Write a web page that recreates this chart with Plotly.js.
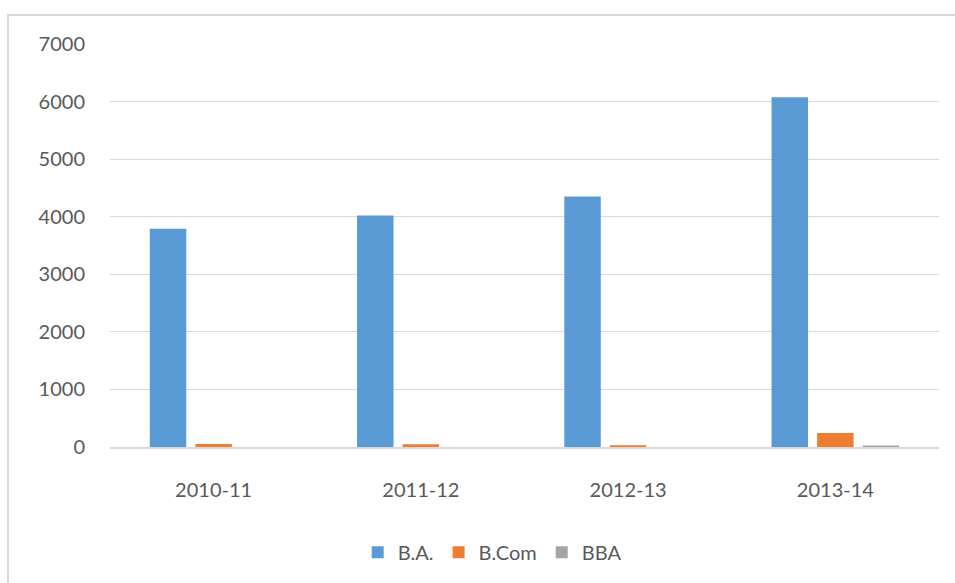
<!DOCTYPE html>
<html>
<head>
<meta charset="utf-8">
<script src="https://cdn.plot.ly/plotly-3.0.1.min.js"></script>
<style>
  html, body { margin: 0; padding: 0; background: #ffffff; overflow: hidden; }
  #wrap { position: relative; width: 955px; height: 583px; }
  #frame { position: absolute; left: 7px; top: 14px; width: 960px; height: 600px;
           border: 2px solid #d9d9d9; box-sizing: border-box; pointer-events: none; }
  #chart { position: absolute; left: 0; top: 0; width: 955px; height: 583px; }
</style>
</head>
<body>
<div id="wrap">
  <div id="chart"></div>
  <div id="frame"></div>
</div>
<script>
const years = ["2010-11", "2011-12", "2012-13", "2013-14"];
const baValues = [3790, 4020, 4350, 6075];
const bcomValues = [50, 48, 30, 245];
const bbaValues = [0, 0, 0, 25];
const yTicks = [0, 1000, 2000, 3000, 4000, 5000, 6000, 7000];

const font = { family: "Lato, 'Open Sans', sans-serif", size: 20, color: "#595959" };

const traces = [
  { type: "bar", name: "B.A.", x: years, y: baValues, marker: { color: "#5b9bd5" } },
  { type: "bar", name: "B.Com", x: years, y: bcomValues, marker: { color: "#ed7d31" } },
  { type: "bar", name: "BBA", x: years, y: bbaValues, marker: { color: "#a5a5a5" } }
];

const layout = {
  width: 955, height: 583,
  paper_bgcolor: "rgba(0,0,0,0)", plot_bgcolor: "#ffffff",
  margin: { l: 110, r: 16, t: 44, b: 135 },
  barmode: "group", bargap: 0.34, bargroupgap: 0.2,
  font: font,
  showlegend: true,
  legend: { orientation: "h", x: 0.461, xanchor: "center", y: -0.21, yanchor: "top",
            font: font, itemwidth: 30, traceorder: "normal" },
  xaxis: { type: "category", showgrid: false, zeroline: false,
           showline: true, linecolor: "#d9d9d9", linewidth: 1.5,
           ticks: "", tickfont: font, ticklabelstandoff: 24 },
  yaxis: { range: [0, 7000], tickvals: yTicks, ticktext: yTicks.map(String),
           showgrid: true, gridcolor: "#d9d9d9", gridwidth: 1,
           zeroline: false, showline: false, ticks: "",
           tickfont: font, ticklabelstandoff: 24 }
};

Plotly.newPlot("chart", traces, layout, { displayModeBar: false, staticPlot: true });
</script>
</body>
</html>
